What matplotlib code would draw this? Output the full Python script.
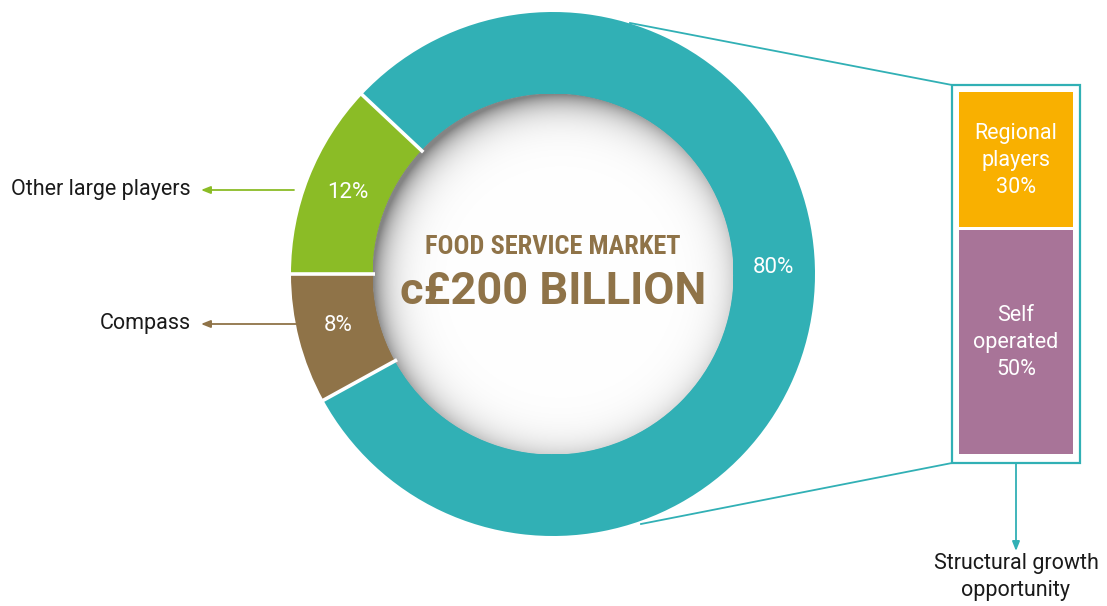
import numpy as np
import matplotlib
matplotlib.use("Agg")
import matplotlib.pyplot as plt
from matplotlib.patches import Circle, Rectangle
from matplotlib import font_manager as fm


def pick(cands):
    for c in cands:
        try:
            fm.findfont(fm.FontProperties(family=c), fallback_to_default=False)
            return c
        except Exception:
            pass
    return 'DejaVu Sans'


FONT = pick(['Roboto', 'Liberation Sans'])
FONT_C = pick(['Roboto Condensed', 'Liberation Sans Narrow', 'Roboto'])
plt.rcParams['font.family'] = [FONT, 'DejaVu Sans']

# ---- data ----
donut_names = ['Rest of market', 'Other large players', 'Compass']
donut_shares = [80, 12, 8]
donut_colors = ['#31B0B5', '#8BBC26', '#8F7348']
breakdown_names = ['Regional\nplayers', 'Self\noperated']
breakdown_shares = [30, 50]
breakdown_colors = ['#F9B000', '#A87498']
title_line1 = 'FOOD SERVICE MARKET'
title_line2 = 'c£200 BILLION'
bottom_note = 'Structural growth\nopportunity'

W, H = 1107, 606
fig = plt.figure(figsize=(W / 100, H / 100), dpi=100)
ax = fig.add_axes([0, 0, 1, 1])


def Y(py):
    return H - py


teal = donut_colors[0]
cx, cy = 553, Y(274)
R_out, R_in = 262, 180
start = 180 - donut_shares[1] * 3.6 - donut_shares[0] * 3.6

wedges, _ = ax.pie(donut_shares, colors=donut_colors, startangle=start,
                   radius=R_out, center=(cx, cy), counterclock=True,
                   wedgeprops=dict(width=R_out - R_in, linewidth=0))
ax.set_xlim(0, W)
ax.set_ylim(0, H)
ax.set_aspect('equal')
ax.axis('off')

# white separators between wedges
angles = [start]
for s in donut_shares:
    angles.append(angles[-1] + s * 3.6)
for a in angles[1:]:
    t = np.deg2rad(a)
    ax.plot([cx + (R_in - 2) * np.cos(t), cx + (R_out + 2) * np.cos(t)],
            [cy + (R_in - 2) * np.sin(t), cy + (R_out + 2) * np.sin(t)],
            color='white', lw=2.6, solid_capstyle='butt', zorder=3)

# inner shadow in hole
n = 500
xs = np.linspace(cx - R_in, cx + R_in, n)
ys = np.linspace(cy - R_in, cy + R_in, n)
XX, YY = np.meshgrid(xs, ys)
off = 8
d = np.sqrt((XX - (cx + off)) ** 2 + (YY - (cy - off)) ** 2)
s = R_in - d + off
shade = np.clip(np.exp(-np.clip(s, 0, None) / 15.0), 0, 1)
g = 1 - 0.48 * shade
img = np.dstack([g, g, g])
im = ax.imshow(img, extent=(cx - R_in, cx + R_in, cy - R_in, cy + R_in),
               origin='lower', zorder=2, interpolation='bilinear')
clip = Circle((cx, cy), R_in + 0.5, transform=ax.transData)
im.set_clip_path(clip)

# percentage labels on ring
r_mid = (R_out + R_in) / 2
label_angles = [1.8,
                angles[1] + donut_shares[1] * 1.8,
                angles[2] + donut_shares[2] * 1.8 - 1]
for sh, a in zip(donut_shares, label_angles):
    t = np.deg2rad(a)
    ax.text(cx + r_mid * np.cos(t), cy + r_mid * np.sin(t), f'{sh}%',
            color='white', fontsize=16, fontweight='normal',
            ha='center', va='center', zorder=5)

# centre text
brown_txt = '#8F7348'
ax.text(cx, Y(247), title_line1, color=brown_txt, fontsize=19,
        fontweight='bold', family=[FONT_C, 'DejaVu Sans'],
        ha='center', va='center', zorder=5)
ax.text(cx, Y(292), title_line2, color=brown_txt, fontsize=32.5,
        fontweight='bold', ha='center', va='center', zorder=5)

# left labels with arrows
left_y = [Y(190), Y(324)]
for name, col, ly, x0 in zip(donut_names[1:], donut_colors[1:], left_y, [294, 296]):
    ax.annotate('', xy=(201, ly), xytext=(x0, ly),
                arrowprops=dict(arrowstyle='-|>,head_length=0.55,head_width=0.22',
                                color=col, lw=1.3, shrinkA=0, shrinkB=0), zorder=1)
    ax.text(191, ly, name, color='#1a1a1a', fontsize=15.5, ha='right', va='center')

# breakdown box
bx0, bx1 = 952, 1080
by_top, by_bot = Y(85), Y(463)
ax.add_patch(Rectangle((bx0, by_bot), bx1 - bx0, by_top - by_bot, facecolor='white',
                       edgecolor=teal, lw=1.6, zorder=3))
# leader lines
ax.plot([630, bx0], [Y(23), by_top], color=teal, lw=1.3, zorder=1)
ax.plot([641, bx0], [Y(524), by_bot], color=teal, lw=1.3, zorder=1)

inner_bottom = Y(454)
gap = 3
k = (Y(92) - inner_bottom - gap) / sum(breakdown_shares)
bar_x = (959 + 1073) / 2
bar_w = 1073 - 959
bottoms = [inner_bottom + breakdown_shares[1] * k + gap, inner_bottom]
for name, sh, col, b in zip(breakdown_names, breakdown_shares, breakdown_colors, bottoms):
    ax.bar(bar_x, sh * k, width=bar_w, bottom=b, color=col, zorder=4, linewidth=0)
    ax.text(bar_x, b + sh * k / 2 - 1, f'{name}\n{sh}%', color='white', fontsize=15.5,
            fontweight='normal', ha='center', va='center', linespacing=1.38, zorder=5)

# down arrow
ax.annotate('', xy=(1016, Y(551)), xytext=(1016, by_bot),
            arrowprops=dict(arrowstyle='-|>,head_length=0.55,head_width=0.22',
                            color=teal, lw=1.3, shrinkA=0, shrinkB=0))
ax.text(1016, Y(577), bottom_note, color='#1a1a1a', fontsize=15.5,
        ha='center', va='center', linespacing=1.35)

fig.savefig('out.png', dpi=100, facecolor='white')
